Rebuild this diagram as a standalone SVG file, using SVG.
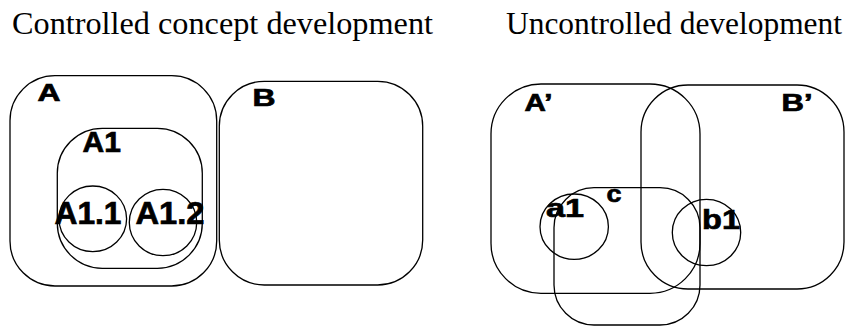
<svg xmlns="http://www.w3.org/2000/svg" width="850" height="326" viewBox="0 0 850 326">
<style>
.s{fill:none;stroke:#000;stroke-width:1.3}
.t{font-family:'Liberation Serif','Times New Roman','DejaVu Serif',serif;font-size:31px;fill:#000}
.l{font-family:'Liberation Sans',Arial,sans-serif;font-weight:bold;fill:#000;stroke:#000;stroke-width:0.7}
</style>
<rect width="850" height="326" fill="#fff"/>
<g id="titles">
<text class="t" x="12" y="34" textLength="421" lengthAdjust="spacingAndGlyphs">Controlled concept development</text>
<text class="t" x="506" y="34" textLength="336" lengthAdjust="spacingAndGlyphs">Uncontrolled development</text>
</g>
<g id="A"><rect class="s" x="10" y="75.7" width="206.7" height="210.3" rx="45"/><text class="l" x="37.5" y="101" font-size="23.5" textLength="23" lengthAdjust="spacingAndGlyphs">A</text></g>
<g id="B"><rect class="s" x="219.3" y="81.3" width="203.4" height="203.7" rx="45"/><text class="l" x="252.5" y="105.5" font-size="24" textLength="23" lengthAdjust="spacingAndGlyphs">B</text></g>
<g id="A1"><rect class="s" x="57.3" y="128.3" width="145" height="140" rx="45"/><text class="l" x="82.5" y="151.7" font-size="30">A1</text></g>
<g id="A1.1"><ellipse class="s" cx="92.8" cy="218.8" rx="33.8" ry="32.8"/><text class="l" x="54.5" y="223.5" font-size="31" textLength="67" lengthAdjust="spacingAndGlyphs">A1.1</text></g>
<g id="A1.2"><ellipse class="s" cx="163" cy="222.5" rx="33.7" ry="33.2"/><text class="l" x="135.5" y="223.5" font-size="31" textLength="69" lengthAdjust="spacingAndGlyphs">A1.2</text></g>
<g id="Aprime"><rect class="s" x="491" y="84" width="209" height="209.3" rx="50"/><text class="l" x="524.5" y="111" font-size="23.5" textLength="28" lengthAdjust="spacingAndGlyphs">A’</text></g>
<g id="Bprime"><rect class="s" x="641" y="85" width="203" height="204" rx="47"/><text class="l" x="781.5" y="110.5" font-size="23.5" textLength="31" lengthAdjust="spacingAndGlyphs">B’</text></g>
<g id="c"><rect class="s" x="554" y="187.7" width="146" height="137.3" rx="40"/><text class="l" x="606.5" y="202" font-size="24" textLength="15" lengthAdjust="spacingAndGlyphs">c</text></g>
<g id="a1"><ellipse class="s" cx="574.2" cy="226.7" rx="34.2" ry="32.7"/><text class="l" x="546" y="217" font-size="26.5" textLength="38" lengthAdjust="spacingAndGlyphs">a1</text></g>
<g id="b1"><ellipse class="s" cx="706.5" cy="232.5" rx="34.2" ry="33.2"/><text class="l" x="702" y="228.5" font-size="28" textLength="38" lengthAdjust="spacingAndGlyphs">b1</text></g>
</svg>
